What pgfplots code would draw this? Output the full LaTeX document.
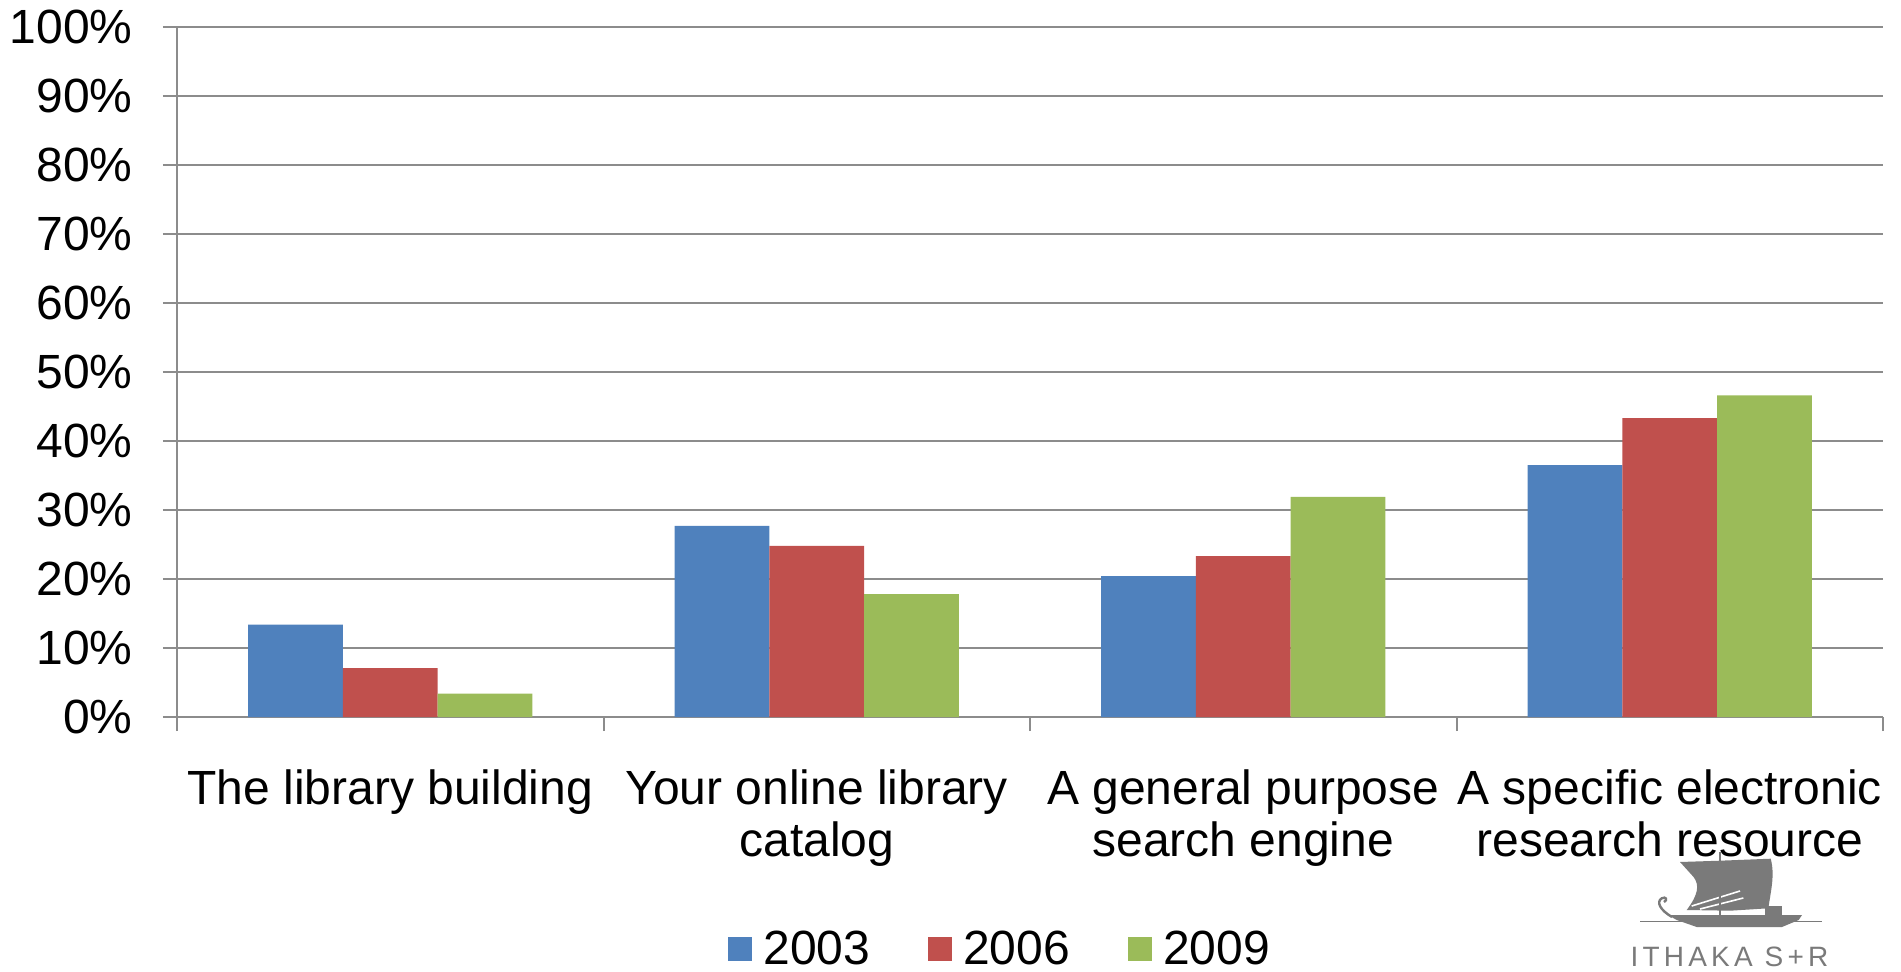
\documentclass[border=0pt]{standalone}
\usepackage{pgfplots}
\pgfplotsset{compat=1.18}
\usepackage{fontspec}
\setmainfont{Liberation Sans}
\definecolor{c03}{HTML}{4F81BD}
\definecolor{c06}{HTML}{C0504D}
\definecolor{c09}{HTML}{9BBB59}
\definecolor{gridc}{HTML}{8C8C8C}
\definecolor{logoc}{HTML}{7A7A7A}
\newcommand{\bigf}{\fontsize{24}{26}\selectfont}
\begin{document}
\begin{tikzpicture}
\useasboundingbox (0,0) rectangle (950.5pt,485.5pt);
\begin{axis}[
  at={(88.5pt,127pt)}, anchor=south west,
  scale only axis, width=853pt, height=345pt,
  ybar=0pt, bar width=0.222,
  xmin=-0.5, xmax=3.5, ymin=0, ymax=100,
  axis x line*=bottom, axis y line*=left,
  axis line style={gridc, line width=1pt},
  tick style={gridc, line width=1pt},
  tick align=outside,
  major tick length=7pt,
  xtick={-0.5,0.5,1.5,2.5,3.5}, xticklabels={},
  extra x ticks={0,1,2,3},
  extra x tick labels={The library building,{Your online library\\catalog},{A general purpose\\search engine},{A specific electronic\\research resource}},
  extra x tick style={major tick length=0pt, grid=none,
    xticklabel style={font=\bigf, align=center, anchor=north, inner sep=0pt, yshift=-26pt}},
  ytick={0,10,...,100},
  yticklabels={0\%,10\%,20\%,30\%,40\%,50\%,60\%,70\%,80\%,90\%,100\%},
  yticklabel style={font=\bigf, anchor=east, inner sep=0pt, xshift=-15pt},
  ymajorgrids, major grid style={gridc, line width=1pt},
  legend style={draw=none, fill=none, font=\bigf, legend columns=3,
    at={(axis description cs:0.323,-0.336)}, anchor=west, inner sep=0pt,
    nodes={inner sep=0pt},
    /tikz/every even column/.append style={column sep=29pt}},
  legend image code/.code={\fill[#1] (0pt,-6pt) rectangle (12pt,6pt); \path (17.5pt,0pt);},
]
\addplot[fill=c03, draw=none] coordinates {(0,13.4) (1,27.7) (2,20.4) (3,36.5)};
\addplot[fill=c06, draw=none] coordinates {(0,7.1) (1,24.8) (2,23.3) (3,43.3)};
\addplot[fill=c09, draw=none] coordinates {(0,3.4) (1,17.8) (2,31.9) (3,46.6)};
\legend{2003,2006,2009}
\end{axis}
% logo
\begin{scope}[yshift=485.5pt, x=0.5pt, y=-0.5pt]
\fill[logoc] (1680,862) -- (1720,860.7) -- (1770.7,858.7) .. controls (1775,875) and (1771,890) .. (1768.3,908.3) -- (1730,910.7) -- (1686.7,910) .. controls (1698,895) and (1700,885) .. (1693.3,876.7) -- cycle;
\draw[white, line width=0.8pt] (1691.7,906) -- (1740,891);
\draw[white, line width=0.8pt] (1700,909) -- (1743.3,898);
\draw[logoc, line width=0.8pt] (1720,852) -- (1720,916.7);
\fill[logoc] (1668,915) -- (1802,915) -- (1798.7,920) -- (1782,927) -- (1696.7,927) -- (1676.7,920) -- cycle;
\draw[logoc, line width=1.2pt] (1672,917) .. controls (1660,910) and (1656,902) .. (1661.7,898.3) .. controls (1666,896) and (1668,900) .. (1664,902);
\fill[logoc] (1765,906) rectangle (1782,915);
\draw[logoc, line width=0.5pt] (1640,921) -- (1822,921);
\node[logoc, anchor=base, inner sep=0pt, font=\fontsize{14}{16}\selectfont\addfontfeature{LetterSpace=15}] at (1729.5,966) {ITHAKA S+R};
\end{scope}
\end{tikzpicture}
\end{document}
